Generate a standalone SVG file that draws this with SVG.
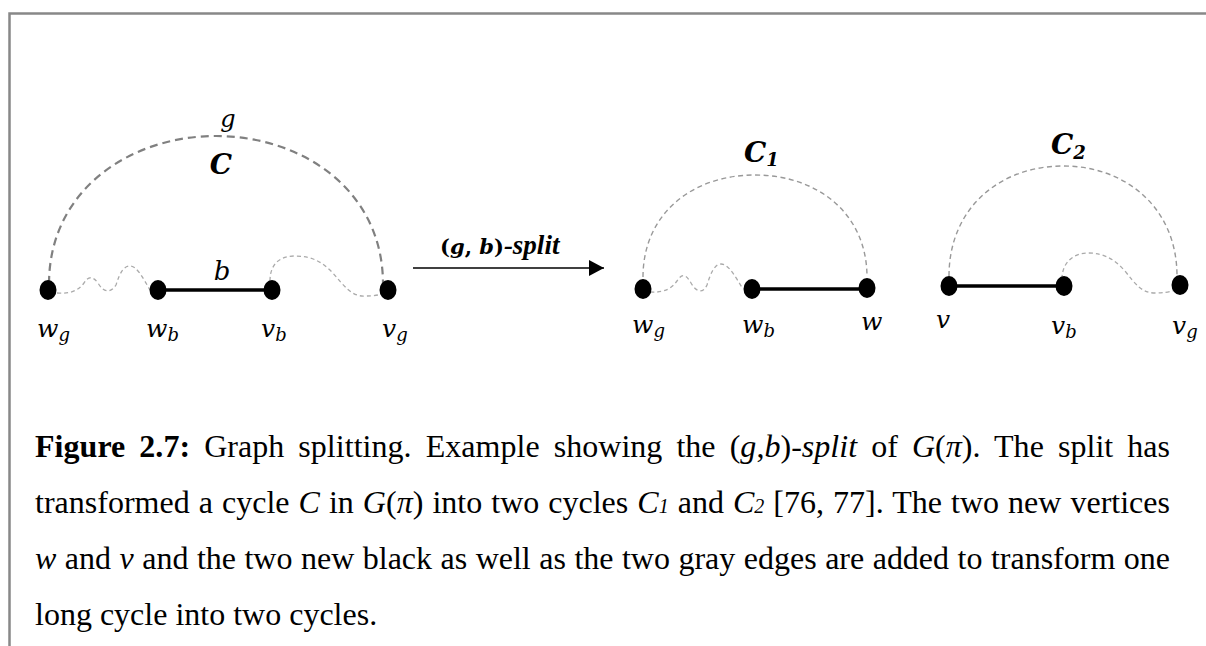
<svg xmlns="http://www.w3.org/2000/svg" width="1206" height="646" viewBox="0 0 1206 646">
<style>
.node{fill:#000}
.black{stroke:#000;stroke-width:3.5;fill:none}
.gbig{stroke:#808080;stroke-width:2.2;stroke-dasharray:8 5;fill:none}
.gmid{stroke:#999;stroke-width:1.4;stroke-dasharray:5 3.5;fill:none}
.wig{stroke:#aaa;stroke-width:1.3;stroke-dasharray:4 3;fill:none}
.m{font-family:"DejaVu Serif","Liberation Serif",serif;font-style:italic;fill:#000}
.cap{font-family:"Liberation Serif","Times New Roman",serif;font-size:32px;fill:#000}
.i{font-style:italic}
.sub{font-style:italic;font-size:20px}
</style>
<defs>
<marker id="ah" markerWidth="16" markerHeight="16" refX="15" refY="8" orient="auto" markerUnits="userSpaceOnUse">
<path d="M0,0 L15,8 L0,16 Z" fill="#000"/>
</marker>
</defs>
<path d="M9.5,646 V13.5 H1206" stroke="#888" stroke-width="2.5" fill="none"/>

<g id="connectors">
<path class="gbig" d="M49,284 C49,190 130,136 216,136 C302,136 383,190 383,284"/>
<path class="wig" d="M57,293 C70,294 78,291 84,283 C88,276 93,276 98,283 C103,292 110,294 116,285 C120,272 124,266 130,266 C137,266 143,278 150,290"/>
<path class="black" d="M158,290 H272"/>
<path class="wig" d="M270,281 C270,262 282,256 295,256 C312,256 322,262 332,272 C344,286 352,297 365,296 C374,296 380,295 385,293"/>
<path class="gmid" d="M643,277 C643,214 692,175 755,175 C818,175 867,214 867,277"/>
<path class="wig" d="M650,292 C665,293 672,288 677,281 C682,273 686,274 691,283 C696,292 703,294 707,285 C711,272 715,264 721,264 C729,264 736,278 743,289"/>
<path class="black" d="M752,289 H867"/>
<path class="gmid" d="M949,276 C949,208 1000,166 1063,166 C1126,166 1177,208 1177,276"/>
<path class="black" d="M949,286 H1064"/>
<path class="wig" d="M1062,279 C1062,262 1074,253 1088,253 C1105,253 1115,260 1125,271 C1136,285 1142,293 1155,293 C1163,293 1170,292 1175,290"/>
<path d="M413,268 H604" stroke="#000" stroke-width="1.5" fill="none" marker-end="url(#ah)"/>
</g>

<g id="labels-left">
<text class="m" x="228" y="127" font-size="24" text-anchor="middle">g</text>
<text class="m" x="221" y="174" font-size="28" font-weight="bold" text-anchor="middle">C</text>
<text class="m" x="222" y="280" font-size="26" text-anchor="middle">b</text>
</g>

<g id="n-wg"><ellipse class="node" cx="48" cy="290" rx="8.5" ry="10"/><text class="m" x="37" y="337" font-size="25">w<tspan font-size="18" dy="4">g</tspan></text></g>
<g id="n-wb"><ellipse class="node" cx="158" cy="290" rx="8.5" ry="10"/><text class="m" x="146" y="337" font-size="25">w<tspan font-size="18" dy="4">b</tspan></text></g>
<g id="n-vb"><ellipse class="node" cx="272" cy="290" rx="8.5" ry="10"/><text class="m" x="261" y="337" font-size="25">v<tspan font-size="18" dy="4">b</tspan></text></g>
<g id="n-vg"><ellipse class="node" cx="388" cy="290" rx="8.5" ry="10"/><text class="m" x="382" y="337" font-size="25">v<tspan font-size="18" dy="4">g</tspan></text></g>

<g id="arrow-label">
<text x="440" y="254" font-family="'DejaVu Serif',serif" font-size="21" font-weight="bold">(<tspan class="i">g</tspan>, <tspan class="i">b</tspan>)<tspan font-family="'Liberation Serif',serif" font-size="27" font-style="italic">-split</tspan></text>
</g>

<g id="label-c1"><text class="m" x="744" y="162" font-size="28" font-weight="bold">C<tspan font-size="18" dy="4">1</tspan></text></g>
<g id="n2-wg"><ellipse class="node" cx="643" cy="289" rx="8.5" ry="10"/><text class="m" x="632" y="333" font-size="25">w<tspan font-size="18" dy="4">g</tspan></text></g>
<g id="n2-wb"><ellipse class="node" cx="752" cy="289" rx="8.5" ry="10"/><text class="m" x="742" y="333" font-size="25">w<tspan font-size="18" dy="4">b</tspan></text></g>
<g id="n2-w"><ellipse class="node" cx="867" cy="288" rx="8.5" ry="10"/><text class="m" x="861" y="330" font-size="25">w</text></g>

<g id="label-c2"><text class="m" x="1051" y="154" font-size="28" font-weight="bold">C<tspan font-size="18" dy="5">2</tspan></text></g>
<g id="n3-v"><ellipse class="node" cx="949" cy="286" rx="8.5" ry="10"/><text class="m" x="936" y="328" font-size="25">v</text></g>
<g id="n3-vb"><ellipse class="node" cx="1064" cy="286" rx="8.5" ry="10"/><text class="m" x="1051" y="334" font-size="25">v<tspan font-size="18" dy="4">b</tspan></text></g>
<g id="n3-vg"><ellipse class="node" cx="1180" cy="285" rx="8.5" ry="10"/><text class="m" x="1172" y="334" font-size="25">v<tspan font-size="18" dy="4">g</tspan></text></g>

<g id="caption">
<text class="cap" x="35" y="457" word-spacing="6" textLength="1135" lengthAdjust="spacing"><tspan font-weight="bold">Figure 2.7:</tspan> Graph splitting. Example showing the (<tspan class="i">g</tspan>,<tspan class="i">b</tspan>)-<tspan class="i">split</tspan> of <tspan class="i">G</tspan>(<tspan class="i">π</tspan>). The split has</text>
<text class="cap" x="35" y="513" word-spacing="1" textLength="1135" lengthAdjust="spacing">transformed a cycle <tspan class="i">C</tspan> in <tspan class="i">G</tspan>(<tspan class="i">π</tspan>) into two cycles <tspan class="i">C</tspan><tspan class="sub">1</tspan> and <tspan class="i">C</tspan><tspan class="sub">2</tspan> [76, 77]. The two new vertices</text>
<text class="cap" x="35" y="569" word-spacing="0.5" textLength="1135" lengthAdjust="spacing"><tspan class="i">w</tspan> and <tspan class="i">v</tspan> and the two new black as well as the two gray edges are added to transform one</text>
<text class="cap" x="35" y="625">long cycle into two cycles.</text>
</g>
</svg>
